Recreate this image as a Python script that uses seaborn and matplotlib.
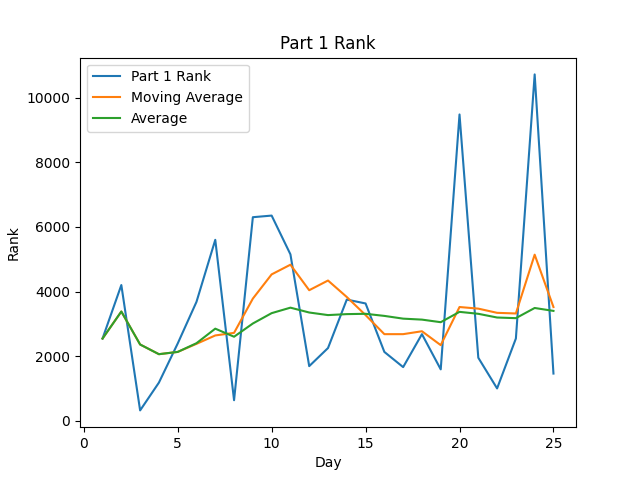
import matplotlib
matplotlib.use('Agg')
import matplotlib.pyplot as plt
import pandas as pd
import seaborn as sns

days = list(range(1, 26))

# ranks
part1_rank = [2545, 4200, 320, 1180, 2390, 3680, 5600, 635, 6300, 6350,
              5150, 1690, 2250, 3750, 3630, 2130, 1660, 2680, 1590, 9480,
              1950, 1000, 2545, 10720, 1460]
moving_avg = [2545, 3380, 2360, 2060, 2130, 2380, 2640, 2720, 3780, 4530,
              4830, 4040, 4340, 3830, 3270, 2680, 2680, 2770, 2340, 3520,
              3470, 3340, 3320, 5140, 3520]
average = [2545, 3380, 2360, 2060, 2130, 2400, 2850, 2600, 3010, 3330,
           3500, 3350, 3270, 3300, 3310, 3245, 3160, 3130, 3050, 3370,
           3310, 3195, 3175, 3490, 3400]

df = pd.DataFrame({'Day': days, 'Part 1 Rank': part1_rank,
                   'Moving Average': moving_avg, 'Average': average})

fig, ax = plt.subplots(figsize=(6.4, 4.8), dpi=100)

for col in ['Part 1 Rank', 'Moving Average', 'Average']:
    sns.lineplot(data=df, x='Day', y=col, ax=ax, label=col)

ax.set_title('Part 1 Rank')
ax.set_xlabel('Day')
ax.set_ylabel('Rank')
ax.legend(loc='upper left')

fig.savefig('out.png')
